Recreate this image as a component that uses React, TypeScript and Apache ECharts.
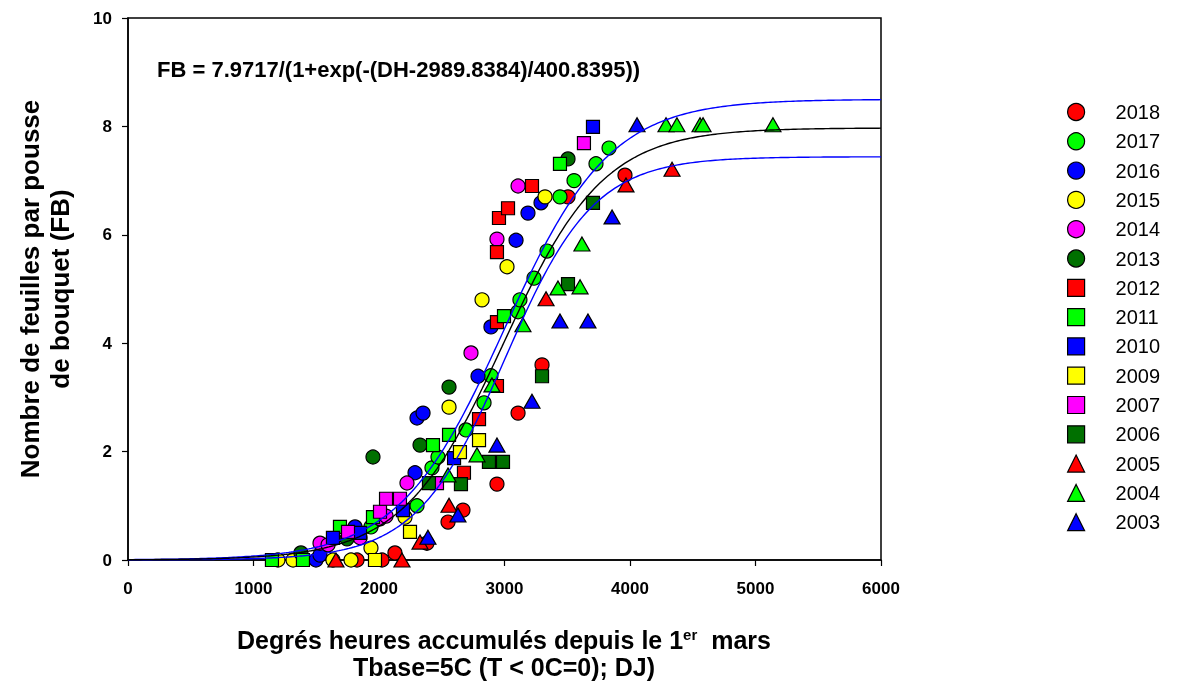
import React, { useEffect, useRef } from "react";
import * as echarts from "echarts";

const FONT = "'Liberation Sans', Arial, sans-serif";

// x ticks / y ticks
const xTicks = [0, 1000, 2000, 3000, 4000, 5000, 6000];
const yTicks = [0, 2, 4, 6, 8, 10];

// Fitted model (from the chart's equation)
const fitA = 7.9717;
const fitX0 = 2989.8384;
const fitB = 400.8395;
// Estimated band curves (upper / lower)
const upperBand = { a: 8.5, x0: 2997, b: 421 };
const lowerBand = { a: 7.44, x0: 3005, b: 354 };

const years = ["2018", "2017", "2016", "2015", "2014", "2013", "2012", "2011", "2010", "2009", "2007", "2006", "2005", "2004", "2003"];

const d2018 = [[1825, 0], [2024, 0], [2127, 0.13], [2382, 0.31], [2550, 0.7], [2669, 0.92], [2940, 1.4], [3108, 2.71], [3299, 3.6], [3506, 6.7], [3960, 7.1]];
const d2017 = [[1936, 0.61], [2303, 1.0], [2422, 1.7], [2470, 1.9], [2693, 2.4], [2837, 2.9], [2892, 3.4], [3108, 4.58], [3123, 4.8], [3235, 5.2], [3339, 5.7], [3442, 6.7], [3554, 7.0], [3729, 7.31], [3833, 7.6]];
const d2016 = [[1498, 0], [1530, 0.09], [1809, 0.61], [2287, 1.61], [2303, 2.62], [2351, 2.71], [2789, 3.39], [2892, 4.3], [3092, 5.9], [3187, 6.4], [3291, 6.59]];
const d2015 = [[1195, 0], [1315, 0], [1633, 0], [1777, 0], [1936, 0.22], [2207, 0.79], [2558, 2.82], [2821, 4.8], [3020, 5.41], [3323, 6.7]];
const d2014 = [[1530, 0.31], [1594, 0.28], [1849, 0.41], [2008, 0.76], [2056, 0.81], [2223, 1.42], [2733, 3.82], [2940, 5.92], [3108, 6.9]];
const d2013 = [[1378, 0.13], [1745, 0.39], [1952, 1.9], [2327, 2.12], [2558, 3.19], [3506, 7.4]];
const d2012 = [[2677, 1.61], [2797, 2.6], [2940, 3.21], [2940, 4.39], [2940, 5.68], [2956, 6.31], [3028, 6.49], [3219, 6.9]];
const d2011 = [[1147, 0], [1394, 0], [1689, 0.61], [1952, 0.79], [2430, 2.12], [2558, 2.31], [2996, 4.5], [3442, 7.31]];
const d2010 = [[1633, 0.41], [1849, 0.5], [2191, 0.92], [2598, 1.88], [3705, 7.99]];
const d2009 = [[1968, 0], [2247, 0.52], [2645, 1.99], [2797, 2.21]];
const d2007 = [[1753, 0.52], [2008, 0.89], [2056, 1.13], [2167, 1.13], [2462, 1.42], [3633, 7.69]];
const d2006 = [[2398, 1.42], [2653, 1.4], [2876, 1.81], [2988, 1.81], [3299, 3.39], [3506, 5.09], [3705, 6.59]];
const d2005 = [[1657, 0], [2183, 0], [2327, 0.33], [2558, 1.01], [3331, 4.82], [3968, 6.92], [4335, 7.21]];
const d2004 = [[2550, 1.57], [2781, 1.94], [2900, 3.23], [3147, 4.34], [3426, 5.02], [3602, 5.04], [3617, 5.83], [4287, 8.03], [4374, 8.03], [4558, 8.03], [4582, 8.03], [5139, 8.03]];
const d2003 = [[2390, 0.42], [2629, 0.83], [2940, 2.12], [3219, 2.93], [3442, 4.41], [3665, 4.41], [3857, 6.33], [4056, 8.03]];

const seriesData = [d2018, d2017, d2016, d2015, d2014, d2013, d2012, d2011, d2010, d2009, d2007, d2006, d2005, d2004, d2003];
const seriesColors = ["#ff0000", "#00ff00", "#0000ff", "#ffff00", "#ff00ff", "#007000", "#ff0000", "#00ff00", "#0000ff", "#ffff00", "#ff00ff", "#007000", "#ff0000", "#00ff00", "#0000ff"];
const seriesSymbols = ["circle", "circle", "circle", "circle", "circle", "circle", "rect", "rect", "rect", "rect", "rect", "rect", "triangle", "triangle", "triangle"];

function logistic(a: number, x0: number, b: number) {
  const pts: number[][] = [];
  for (let x = 0; x <= 6000; x += 20) {
    pts.push([x, a / (1 + Math.exp(-(x - x0) / b))]);
  }
  return pts;
}

export default function App() {
  const ref = useRef<HTMLDivElement>(null);
  useEffect(() => {
    if (!ref.current) return;
    const chart = echarts.init(ref.current, null, { renderer: "svg" });
    const symSize = (s: string) => (s === "circle" ? 14 : s === "rect" ? 13 : [16, 14]);
    const scatter = years.map((y, i) => ({
      name: y,
      type: "scatter",
      data: seriesData[i],
      symbol: seriesSymbols[i],
      symbolSize: symSize(seriesSymbols[i]),
      clip: false,
      itemStyle: { color: seriesColors[i], borderColor: "#000", borderWidth: 1.2, opacity: 1 },
      z: 2 + i * 0.01,
    }));
    const lineCommon = { type: "line", showSymbol: false, symbol: "none", silent: true, z: 5, smooth: false };
    chart.setOption({
      animation: false,
      textStyle: { fontFamily: FONT },
      grid: { left: 128, right: 301, top: 18, bottom: 121, show: true, borderColor: "#000", borderWidth: 1.5, backgroundColor: "transparent" },
      xAxis: {
        type: "value",
        min: xTicks[0],
        max: xTicks[xTicks.length - 1],
        interval: 1000,
        splitLine: { show: false },
        axisLine: { show: true, onZero: false, lineStyle: { color: "#000", width: 1.5 } },
        axisTick: { show: true, inside: false, length: 6, lineStyle: { color: "#000", width: 1.2 } },
        axisLabel: { margin: 20, fontSize: 17, fontWeight: "bold", color: "#000", fontFamily: FONT, formatter: (v: number) => String(v) },
      },
      yAxis: {
        type: "value",
        min: yTicks[0],
        max: yTicks[yTicks.length - 1],
        interval: 2,
        splitLine: { show: false },
        axisLine: { show: true, onZero: false, lineStyle: { color: "#000", width: 1.5 } },
        axisTick: { show: true, inside: false, length: 6, lineStyle: { color: "#000", width: 1.2 } },
        axisLabel: { margin: 16, fontSize: 17, fontWeight: "bold", color: "#000", fontFamily: FONT, formatter: (v: number) => String(v) },
      },
      legend: {
        orient: "vertical",
        left: 1062,
        top: 97,
        itemWidth: 17,
        itemHeight: 17,
        itemGap: 9.3,
        data: years,
        itemStyle: { borderColor: "#000", borderWidth: 1.2 },
        textStyle: { fontSize: 20, lineHeight: 20, color: "#000", fontFamily: FONT, padding: [0, 0, 0, 26] },
      },
      series: [
        ...scatter,
        { ...lineCommon, name: "upper", data: logistic(upperBand.a, upperBand.x0, upperBand.b), lineStyle: { color: "#0000ff", width: 1.4 } },
        { ...lineCommon, name: "lower", data: logistic(lowerBand.a, lowerBand.x0, lowerBand.b), lineStyle: { color: "#0000ff", width: 1.4 } },
        { ...lineCommon, name: "fit", data: logistic(fitA, fitX0, fitB), lineStyle: { color: "#000", width: 1.4 } },
      ],
      graphic: [
        {
          type: "text",
          left: 157,
          top: 58,
          style: { text: "FB = 7.9717/(1+exp(-(DH-2989.8384)/400.8395))", fontSize: 22, fontWeight: "bold", fill: "#000", fontFamily: FONT },
        },
        {
          type: "text",
          x: 45,
          y: 289,
          rotation: Math.PI / 2,
          style: {
            text: "Nombre de feuilles par pousse\nde bouquet (FB)",
            fontSize: 26,
            lineHeight: 30,
            fontWeight: "bold",
            fill: "#000",
            align: "center",
            verticalAlign: "middle",
            fontFamily: FONT,
          },
        },
        {
          type: "text",
          x: 504,
          y: 640,
          style: {
            text: "Degrés heures accumulés depuis le 1{sup|er}  mars",
            fontSize: 25,
            fontWeight: "bold",
            fill: "#000",
            align: "center",
            verticalAlign: "middle",
            fontFamily: FONT,
            rich: { sup: { fontSize: 15, fontWeight: "bold", verticalAlign: "top", padding: [0, 0, 12, 0], fontFamily: FONT } },
          },
        },
        {
          type: "text",
          x: 504,
          y: 667,
          style: {
            text: "Tbase=5C (T < 0C=0); DJ)",
            fontSize: 25,
            fontWeight: "bold",
            fill: "#000",
            align: "center",
            verticalAlign: "middle",
            fontFamily: FONT,
          },
        },
      ],
    });
    return () => chart.dispose();
  }, []);
  return <div ref={ref} style={{ position: "fixed", left: 0, top: 0, width: 1182, height: 681 }} />;
}
